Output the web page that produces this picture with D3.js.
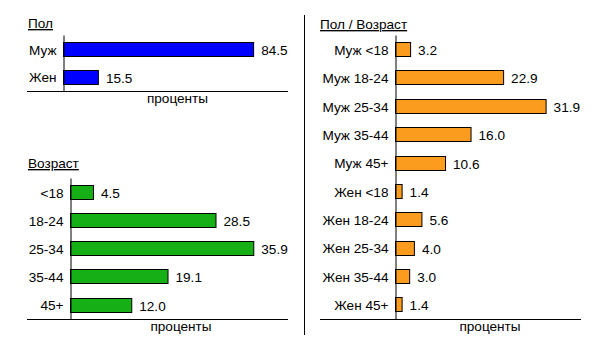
<!DOCTYPE html>
<html><head><meta charset="utf-8">
<script src="https://cdn.jsdelivr.net/npm/d3@7"></script>
<style>
html,body{margin:0;padding:0;background:#fff;}
text{font-family:"Liberation Sans",Arial,sans-serif;font-size:13.6px;fill:#000;}
</style></head>
<body>
<svg id="c" width="610" height="339"></svg>
<script>
// ---- data ----
const sexCats = ["Муж", "Жен"];
const sexVals = [84.5, 15.5];
const ageCats = ["<18", "18-24", "25-34", "35-44", "45+"];
const ageVals = [4.5, 28.5, 35.9, 19.1, 12.0];
const sexAgeCats = ["Муж <18", "Муж 18-24", "Муж 25-34", "Муж 35-44", "Муж 45+",
                    "Жен <18", "Жен 18-24", "Жен 25-34", "Жен 35-44", "Жен 45+"];
const sexAgeVals = [3.2, 22.9, 31.9, 16.0, 10.6, 1.4, 5.6, 4.0, 3.0, 1.4];
const titles = ["Пол", "Возраст", "Пол / Возраст"];
const xLabel = "проценты";
const domainMax = [100, 42.7, 39.4];

const svg = d3.select("#c");
const FS = "13.6px";

function panel(cfg) {
  const {cats, vals, title, color, x0, x1, y0, y1, lineLeft, titleX, titleY, dmax} = cfg;
  const g = svg.append("g");
  const y = d3.scaleBand().domain(cats).range([y0, y1]).paddingInner(0.49).paddingOuter(0.25);
  const x = d3.scaleLinear().domain([0, dmax]).range([x0, x1]);

  g.append("text").attr("x", titleX).attr("y", titleY)
    .attr("text-decoration", "underline").text(title);

  g.selectAll("rect").data(cats).join("rect")
    .attr("x", x(0) + 0.5)
    .attr("y", d => Math.round(y(d)) + 0.5)
    .attr("width", (d, i) => x(vals[i]) - x(0))
    .attr("height", Math.round(y.bandwidth()))
    .attr("fill", color).attr("stroke", "#000").attr("stroke-width", 1);

  g.selectAll("text.v").data(cats).join("text").attr("class", "v")
    .attr("x", (d, i) => x(vals[i]) + 8)
    .attr("y", d => Math.round(y(d)) + y.bandwidth() / 2 + 1)
    .attr("dy", "0.35em")
    .text((d, i) => vals[i].toFixed(1));

  const ax = g.append("g").attr("transform", `translate(${x0 + 0.5},0)`)
    .call(d3.axisLeft(y).tickSize(0).tickPadding(7).tickSizeOuter(0));
  ax.selectAll("text").style("font-family", "'Liberation Sans',Arial,sans-serif")
    .style("font-size", FS).attr("fill", "#000").attr("dy", "0.4em");
  ax.select(".domain").attr("stroke", "#000").attr("stroke-width", 1);

  g.append("line").attr("x1", lineLeft).attr("x2", x1)
    .attr("y1", y1 + 0.5).attr("y2", y1 + 0.5)
    .attr("stroke", "#000").attr("stroke-width", 1);

  g.append("text").attr("x", (x0 + x1) / 2 + 2).attr("y", y1 + 12).attr("text-anchor", "middle")
    .text(xLabel);
}

panel({cats: sexCats, vals: sexVals, title: titles[0], color: "#0000ff",
  x0: 63, x1: 288, y0: 35, y1: 91, lineLeft: 27, titleX: 28, titleY: 28, dmax: domainMax[0]});
panel({cats: ageCats, vals: ageVals, title: titles[1], color: "#16b016",
  x0: 70, x1: 288, y0: 178, y1: 319, lineLeft: 27, titleX: 28, titleY: 168, dmax: domainMax[1]});
panel({cats: sexAgeCats, vals: sexAgeVals, title: titles[2], color: "#fb9c1e",
  x0: 395, x1: 581, y0: 35, y1: 319, lineLeft: 320, titleX: 320, titleY: 29, dmax: domainMax[2]});

svg.append("line").attr("x1", 304.5).attr("x2", 304.5).attr("y1", 15).attr("y2", 335)
  .attr("stroke", "#000").attr("stroke-width", 1);
</script>
</body></html>
